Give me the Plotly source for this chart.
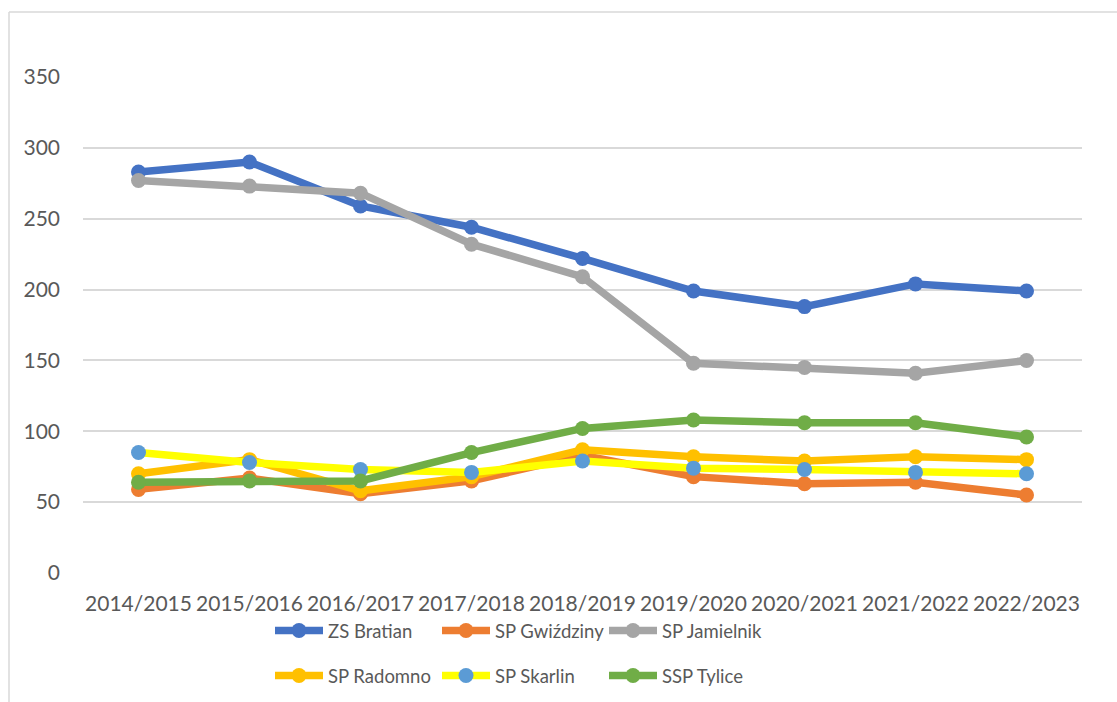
import plotly.graph_objects as go

years = ["2014/2015", "2015/2016", "2016/2017", "2017/2018", "2018/2019",
         "2019/2020", "2020/2021", "2021/2022", "2022/2023"]

zs_bratian = [283, 290, 259, 244, 222, 199, 188, 204, 199]
sp_gwizdziny = [59, 67, 56, 65, 83, 68, 63, 64, 55]
sp_jamielnik = [277, 273, 268, 232, 209, 148, 145, 141, 150]
sp_radomno = [70, 80, 58, 68, 87, 82, 79, 82, 80]
sp_skarlin = [85, 78, 73, 71, 79, 74, 73, 71, 70]
ssp_tylice = [64, 65, 65, 85, 102, 108, 106, 106, 96]

series = [
    ("ZS Bratian", zs_bratian, "#4472C4", "#4472C4", "legend"),
    ("SP Gwiździny", sp_gwizdziny, "#ED7D31", "#ED7D31", "legend"),
    ("SP Jamielnik", sp_jamielnik, "#A5A5A5", "#A5A5A5", "legend"),
    ("SP Radomno", sp_radomno, "#FFC000", "#FFC000", "legend2"),
    ("SP Skarlin", sp_skarlin, "#FFFF00", "#5B9BD5", "legend2"),
    ("SSP Tylice", ssp_tylice, "#70AD47", "#70AD47", "legend2"),
]

fig = go.Figure()
for name, vals, lc, mc, lg in series:
    fig.add_trace(go.Scatter(
        x=list(range(len(years))), y=vals, name=name, mode="lines+markers",
        line=dict(color=lc, width=7.5),
        marker=dict(color=mc, size=15),
        legend=lg,
    ))

text_col = "#595959"
font_family = "Lato, 'Open Sans', sans-serif"

legend_common = dict(
    orientation="h", xref="container", yref="container",
    x=270 / 1117, xanchor="left", yanchor="middle",
    entrywidth=104, entrywidthmode="pixels",
    font=dict(size=18.5, color=text_col), itemwidth=48,
    bgcolor="rgba(0,0,0,0)",
)

fig.update_layout(
    width=1117, height=702,
    margin=dict(l=83, r=35, t=77, b=129, autoexpand=False),
    paper_bgcolor="white", plot_bgcolor="white",
    font=dict(family=font_family, size=20, color=text_col),
    xaxis=dict(
        range=[-0.5, 8.5], tickmode="array",
        tickvals=list(range(len(years))), ticktext=years,
        showgrid=False, zeroline=False, showline=False,
        ticks="", ticklabelstandoff=16, automargin=False,
        tickfont=dict(size=21, color=text_col),
    ),
    yaxis=dict(
        range=[0, 350], tickmode="array",
        tickvals=[0, 50, 100, 150, 200, 250, 300, 350],
        showgrid=True, gridcolor="#D9D9D9", gridwidth=1.5,
        zeroline=False, showline=False, ticks="",
        ticklabelstandoff=22, automargin=False,
        tickfont=dict(size=21, color=text_col),
    ),
    legend=dict(legend_common, y=1 - 631 / 702),
    legend2=dict(legend_common, y=1 - 676 / 702),
    shapes=[
        dict(type="line", xref="paper", yref="paper",
             x0=-74 / 999, x1=1040 / 999, y0=561 / 496, y1=561 / 496,
             line=dict(color="#D9D9D9", width=1.5)),
        dict(type="line", xref="paper", yref="paper",
             x0=-74 / 999, x1=-74 / 999, y0=561 / 496, y1=-135 / 496,
             line=dict(color="#D9D9D9", width=1.5)),
    ],
)

fig.write_html(
    "out.html",
    config={"displayModeBar": False},
    post_script="document.body.style.margin='0';document.body.style.overflow='hidden';",
)
